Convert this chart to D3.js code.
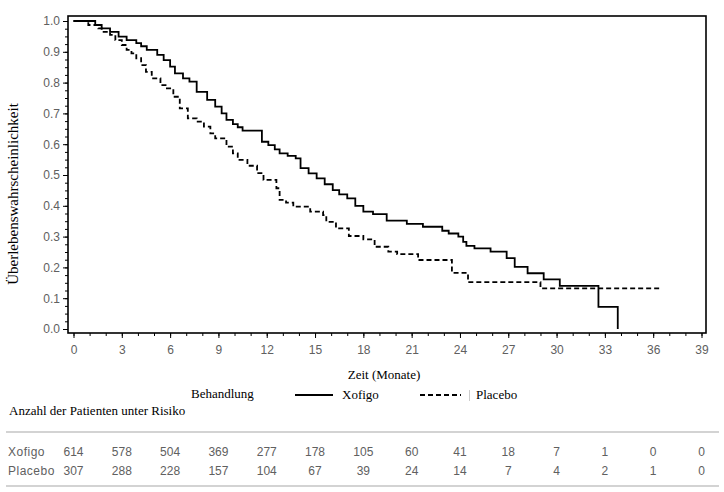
<!DOCTYPE html>
<html>
<head>
<meta charset="utf-8">
<script src="https://cdn.jsdelivr.net/npm/d3@7/dist/d3.min.js"></script>
<style>
  body { margin: 0; background: #fff; }
  .tick text { font-family: "Liberation Sans", Arial, sans-serif; font-size: 12px; fill: #606060; }
  .serif { font-family: "Liberation Serif", "Times New Roman", serif; font-size: 13px; fill: #000; }
  .risk { font-family: "Liberation Sans", Arial, sans-serif; font-size: 12px; fill: #606060; }
</style>
</head>
<body>
<svg id="chart" width="724" height="492"></svg>
<script>
// Kaplan-Meier steps: [month, survival]
var xofigo = [
	[0, 1.0], [1.35, 0.987], [1.75, 0.976], [2.27, 0.965], [2.8, 0.949], [3.3, 0.938],
	[3.9, 0.928], [4.2, 0.918], [4.55, 0.906], [5.2, 0.89], [5.6, 0.873], [6.0, 0.852],
	[6.3, 0.83], [6.8, 0.814], [7.2, 0.803], [7.65, 0.77], [8.3, 0.744], [8.8, 0.722],
	[9.2, 0.70], [9.5, 0.679], [9.9, 0.665], [10.2, 0.655], [10.5, 0.644], [11.7, 0.608],
	[12.1, 0.597], [12.5, 0.583], [12.8, 0.57], [13.3, 0.562], [13.8, 0.554], [14.1, 0.522],
	[14.6, 0.505], [15.1, 0.489], [15.6, 0.47], [16.1, 0.451], [16.5, 0.437], [17.0, 0.424],
	[17.5, 0.40], [18.0, 0.381], [18.6, 0.373], [19.45, 0.352], [20.7, 0.341], [21.7, 0.332],
	[22.9, 0.319], [23.3, 0.31], [23.9, 0.30], [24.2, 0.283], [24.4, 0.27], [24.9, 0.262],
	[25.9, 0.251], [26.9, 0.23], [27.4, 0.202], [28.2, 0.181], [29.2, 0.161], [30.2, 0.14],
	[32.6, 0.072], [33.8, 0.0]
];
var placebo = [
	[0, 1.0], [0.92, 0.987], [1.54, 0.976], [1.75, 0.965], [2.27, 0.955], [2.6, 0.938],
	[3.0, 0.922], [3.3, 0.906], [3.6, 0.895], [3.9, 0.879], [4.2, 0.857], [4.5, 0.835],
	[4.86, 0.814], [5.4, 0.792], [5.8, 0.781], [6.2, 0.754], [6.6, 0.716], [7.1, 0.684],
	[7.65, 0.673], [8.1, 0.657], [8.5, 0.635], [8.8, 0.619], [9.5, 0.592], [9.9, 0.57],
	[10.2, 0.549], [10.8, 0.53], [11.4, 0.506], [11.8, 0.484], [12.6, 0.457], [12.8, 0.419],
	[13.2, 0.41], [13.65, 0.397], [14.7, 0.381], [15.5, 0.37], [15.7, 0.348], [16.3, 0.327],
	[17.1, 0.302], [18.0, 0.291], [18.7, 0.267], [19.55, 0.251], [20.1, 0.243], [21.4, 0.224],
	[23.5, 0.182], [24.5, 0.152], [29.0, 0.132], [36.4, 0.132]
];

var xTicks = [0, 3, 6, 9, 12, 15, 18, 21, 24, 27, 30, 33, 36, 39];
var yTicks = [0, 0.1, 0.2, 0.3, 0.4, 0.5, 0.6, 0.7, 0.8, 0.9, 1.0];
var groups = ["Xofigo", "Placebo"];
var riskXofigo  = [614, 578, 504, 369, 277, 178, 105, 60, 41, 18, 7, 1, 0, 0];
var riskPlacebo = [307, 288, 228, 157, 104, 67, 39, 24, 14, 7, 4, 2, 1, 0];

var svg = d3.select("#chart");
var frame = { left: 68, top: 16, right: 706, bottom: 333 };

var x = d3.scaleLinear().domain([0, 39]).range([73.5, 701.5]);
var y = d3.scaleLinear().domain([0, 1]).range([329, 21]);

// minor ticks
svg.append("g")
	.attr("transform", "translate(0," + frame.bottom + ")")
	.call(d3.axisBottom(x).tickValues(d3.range(0, 40, 1)).tickSize(3).tickFormat(""))
	.call(function(g){ g.select(".domain").remove(); });
svg.append("g")
	.attr("transform", "translate(" + frame.left + ",0)")
	.call(d3.axisLeft(y).tickValues(d3.range(0, 1.001, 0.025)).tickSize(3).tickFormat(""))
	.call(function(g){ g.select(".domain").remove(); });

// major ticks + labels
var xAxis = svg.append("g")
	.attr("transform", "translate(0," + frame.bottom + ")")
	.call(d3.axisBottom(x).tickValues(xTicks).tickSize(5).tickPadding(7).tickFormat(d3.format("d")));
xAxis.select(".domain").remove();

var yAxis = svg.append("g")
	.attr("transform", "translate(" + frame.left + ",0)")
	.call(d3.axisLeft(y).tickValues(yTicks).tickSize(5).tickPadding(3).tickFormat(d3.format(".1f")));
yAxis.select(".domain").remove();

svg.selectAll(".tick line").attr("stroke", "#000");

// frame
svg.append("rect")
	.attr("x", frame.left).attr("y", frame.top)
	.attr("width", frame.right - frame.left)
	.attr("height", frame.bottom - frame.top)
	.attr("fill", "none")
	.attr("stroke", "#000")
	.attr("stroke-width", 1.6);

// curves
var line = d3.line()
	.x(function(d){ return x(d[0]); })
	.y(function(d){ return y(d[1]); })
	.curve(d3.curveStepAfter);

svg.append("path").datum(placebo)
	.attr("d", line)
	.attr("fill", "none")
	.attr("stroke", "#000")
	.attr("stroke-width", 1.8)
	.attr("stroke-dasharray", "5,3");

svg.append("path").datum(xofigo)
	.attr("d", line)
	.attr("fill", "none")
	.attr("stroke", "#000")
	.attr("stroke-width", 1.8);

// axis titles
svg.append("text").attr("class", "serif")
	.attr("x", 384).attr("y", 379)
	.attr("text-anchor", "middle")
	.text("Zeit (Monate)");

svg.append("text").attr("class", "serif")
	.attr("transform", "translate(18,194) rotate(-90)")
	.attr("text-anchor", "middle")
	.style("font-size", "15px")
	.text("Überlebenswahrscheinlichkeit");

// legend
svg.append("text").attr("class", "serif").attr("x", 191).attr("y", 398).text("Behandlung");
svg.append("line").attr("x1", 295).attr("x2", 333).attr("y1", 395).attr("y2", 395)
	.attr("stroke", "#000").attr("stroke-width", 1.8);
svg.append("text").attr("class", "serif").attr("x", 342).attr("y", 399).text(groups[0]);
svg.append("line").attr("x1", 420).attr("x2", 461).attr("y1", 395).attr("y2", 395)
	.attr("stroke", "#000").attr("stroke-width", 1.8).attr("stroke-dasharray", "5,3");
svg.append("line").attr("x1", 469.5).attr("x2", 469.5).attr("y1", 390).attr("y2", 401)
	.attr("stroke", "#ccc").attr("stroke-width", 1);
svg.append("text").attr("class", "serif").attr("x", 476).attr("y", 399).text(groups[1]);

// risk table
svg.append("text").attr("class", "serif").attr("x", 9).attr("y", 415).text("Anzahl der Patienten unter Risiko");

svg.append("line").attr("x1", 6).attr("x2", 719).attr("y1", 432).attr("y2", 432)
	.attr("stroke", "#a8a8a8").attr("stroke-width", 1.2);
svg.append("line").attr("x1", 6).attr("x2", 719).attr("y1", 486).attr("y2", 486)
	.attr("stroke", "#a8a8a8").attr("stroke-width", 1.2);

var rows = [riskXofigo, riskPlacebo];
var rowY = [456, 475];
rows.forEach(function(vals, r){
	svg.append("text").attr("class", "risk")
		.attr("x", 8).attr("y", rowY[r])
		.style("letter-spacing", "0.5px")
		.text(groups[r]);
	svg.selectAll(null).data(vals).enter().append("text")
		.attr("class", "risk")
		.attr("x", function(d, i){ return x(xTicks[i]); })
		.attr("y", rowY[r])
		.attr("text-anchor", "middle")
		.text(function(d){ return d; });
});
</script>
</body>
</html>
